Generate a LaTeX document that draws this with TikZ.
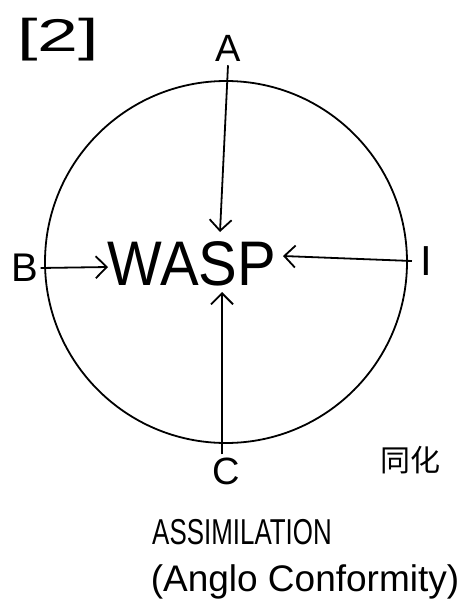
\documentclass[tikz,border=0pt]{standalone}
\usepackage{fontspec}
\setmainfont{Liberation Sans}
\newfontfamily\cjk{Noto Sans CJK SC}
\usetikzlibrary{arrows.meta}
\begin{document}
\begin{tikzpicture}[x=1pt,y=-1pt,
  ink/.style={line width=1.8pt,black},
  arr/.style={ink,-{Straight Barb[length=11pt,width=22pt,line width=1.8pt]}},
  lbl/.style={inner sep=0pt,anchor=center}]
\useasboundingbox (0,0) rectangle (470,607);
\draw[ink] (226,262) circle (181);
\node[lbl,font=\fontsize{46}{46}\selectfont,xscale=1.6,transform shape] (num) at (58,40) {[2]};
\node[lbl,font=\fontsize{38}{38}\selectfont] (A) at (228,48) {A};
\node[lbl,font=\fontsize{40}{40}\selectfont] (B) at (25,268) {B};
\node[lbl,font=\fontsize{42}{42}\selectfont] (I) at (426,261) {I};
\node[lbl,font=\fontsize{38}{38}\selectfont] (C) at (226,471) {C};
\node[lbl,font=\fontsize{63}{63}\selectfont,xscale=0.92,transform shape] (wasp) at (192,264) {WASP};
\node[lbl,font=\cjk\fontsize{30}{30}\selectfont] (tonghua) at (410,460) {同化};
\node[lbl,font=\fontsize{36}{36}\selectfont,xscale=0.72,transform shape] (assim) at (242,532) {ASSIMILATION};
\node[lbl,font=\fontsize{37}{37}\selectfont] (anglo) at (305,582) {(Anglo Conformity)};
\coordinate (aend) at (220,232);
\coordinate (cend) at (222,292);
\coordinate (bend) at (108,267);
\coordinate (iend) at (283,256);
\draw[arr] ([yshift=-4pt]A.south) -- (aend);
\draw[arr] ([yshift=3pt]C.north -| cend) -- (cend);
\draw[arr] ([xshift=2pt]B.east) -- (bend);
\draw[arr] ([xshift=-8pt]I.west) -- (iend);
\end{tikzpicture}
\end{document}
